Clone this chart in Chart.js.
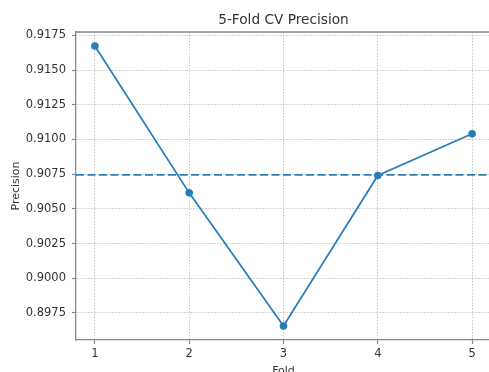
<!DOCTYPE html>
<html>
<head>
<meta charset="utf-8">
<script src="https://cdn.jsdelivr.net/npm/chart.js@4"></script>
<style>
    html, body { margin: 0; padding: 0; overflow: hidden; background: #fff; }
    #wrap { width: 500px; height: 380px; position: relative; }
</style>
</head>
<body>
<div id="wrap"><canvas id="graph"></canvas></div>
<script>
const folds = [1, 2, 3, 4, 5];
const precision = [0.91673, 0.90615, 0.89656, 0.90740, 0.91041];
const yTicks = [0.8975, 0.9000, 0.9025, 0.9050, 0.9075, 0.9100, 0.9125, 0.9150, 0.9175];
const xMin = 0.8, xMax = 5.2;
const yMin = 0.89555, yMax = 0.91774;

const meanPrecision = precision.reduce((a, b) => a + b, 0) / precision.length;
const blue = '#2a7db8';
const textColor = '#333';
const spineColor = '#888';
const font = 'DejaVu Sans';

// top and right spines like matplotlib
const spines = {
    id: 'spines',
    afterDraw(chart) {
        const {ctx, chartArea: a} = chart;
        ctx.save();
        ctx.strokeStyle = spineColor;
        ctx.lineWidth = 1.3;
        ctx.beginPath();
        ctx.moveTo(a.left, a.top);
        ctx.lineTo(a.right, a.top);
        ctx.lineTo(a.right, a.bottom);
        ctx.stroke();
        ctx.restore();
    }
};

const gridOpts = {
    color: 'rgba(175,175,175,0.9)',
    lineWidth: 0.8,
    tickLength: 4,
    tickColor: spineColor,
    tickBorderDash: [],
    tickWidth: 1.2
};

window.addEventListener('DOMContentLoaded', () => {
    const graph = document.getElementById('graph');
    new Chart(graph, {
        type: 'scatter',
        data: {
            datasets: [
                {
                    label: 'Precision',
                    data: folds.map((f, i) => ({x: f, y: precision[i]})),
                    showLine: true,
                    borderColor: blue,
                    backgroundColor: blue,
                    borderWidth: 1.8,
                    pointRadius: 3.8,
                    pointBorderWidth: 0,
                    order: 1
                },
                {
                    label: 'Mean',
                    data: [{x: xMin, y: meanPrecision}, {x: xMax, y: meanPrecision}],
                    showLine: true,
                    borderColor: blue,
                    borderWidth: 1.8,
                    borderDash: [8, 3.5],
                    pointRadius: 0,
                    order: 2
                }
            ]
        },
        options: {
            animation: false,
            responsive: true,
            maintainAspectRatio: false,
            layout: {padding: {left: 0, right: 9, top: 0, bottom: 0}},
            plugins: {
                legend: {display: false},
                tooltip: {enabled: false},
                title: {
                    display: true,
                    text: '5-Fold CV Precision',
                    fullSize: false,
                    color: textColor,
                    font: {family: font, size: 13.7, weight: 'normal'},
                    padding: {top: 11.8, bottom: 3.76}
                }
            },
            scales: {
                x: {
                    type: 'linear',
                    min: xMin,
                    max: xMax,
                    afterBuildTicks: (s) => { s.ticks = folds.map(v => ({value: v})); },
                    afterFit: (s) => { s.height = 40; },
                    grid: gridOpts,
                    border: {display: true, color: spineColor, width: 1.3, dash: [1.5, 1.5]},
                    ticks: {
                        color: textColor,
                        font: {family: font, size: 11.5},
                        padding: 3,
                        maxRotation: 0,
                        callback: (v) => String(v)
                    },
                    title: {
                        display: true,
                        text: 'Fold',
                        color: textColor,
                        font: {family: font, size: 11},
                        padding: {top: 0, bottom: 2.4}
                    }
                },
                y: {
                    type: 'linear',
                    min: yMin,
                    max: yMax,
                    afterBuildTicks: (s) => { s.ticks = yTicks.map(v => ({value: v})); },
                    afterFit: (s) => { s.width = 76; },
                    grid: gridOpts,
                    border: {display: true, color: spineColor, width: 1.3, dash: [1.5, 1.5]},
                    ticks: {
                        color: textColor,
                        font: {family: font, size: 11.5},
                        padding: 6,
                        callback: (v) => v.toFixed(4)
                    },
                    title: {
                        display: true,
                        text: 'Precision',
                        color: textColor,
                        font: {family: font, size: 11},
                        padding: {top: 9.4, bottom: 0}
                    }
                }
            }
        },
        plugins: [spines]
    });
});
</script>
</body>
</html>
